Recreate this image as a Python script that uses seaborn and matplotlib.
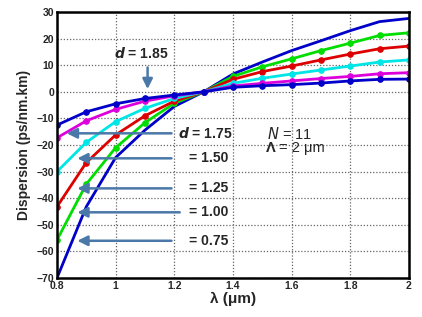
import numpy as np
import pandas as pd
import matplotlib
matplotlib.use("Agg")
import matplotlib.pyplot as plt
import seaborn as sns

# wavelength grid (um)
wavelength = [0.8, 0.9, 1.0, 1.1, 1.2, 1.3, 1.4, 1.5, 1.6, 1.7, 1.8, 1.9, 2.0]

# dispersion (ps/nm.km) per air-hole diameter d
disp_d075 = [-70.0, -43.2, -24.7, -14.4, -5.5, 0.0, 6.7, 11.2, 15.5, 19.2, 23.0, 26.4, 27.6]
disp_d100 = [-55.7, -34.7, -21.0, -11.6, -4.3, 0.0, 5.8, 9.4, 12.4, 15.5, 18.3, 21.2, 22.2]
disp_d125 = [-43.2, -26.6, -16.2, -9.0, -3.5, 0.0, 4.7, 7.6, 9.7, 12.0, 14.2, 16.2, 17.2]
disp_d150 = [-30.0, -19.0, -11.2, -6.2, -2.5, 0.0, 3.2, 5.1, 6.7, 8.2, 9.7, 11.2, 12.0]
disp_d175 = [-17.3, -10.9, -6.6, -3.5, -1.5, 0.0, 2.2, 3.2, 4.1, 5.0, 5.8, 6.8, 7.2]
disp_d185 = [-12.5, -7.5, -4.5, -2.5, -1.2, 0.0, 1.7, 2.3, 2.7, 3.3, 4.1, 4.7, 4.8]

series = [
    ("0.75", disp_d075, "#0000c8", False),
    ("1.00", disp_d100, "#00dd00", True),
    ("1.25", disp_d125, "#dd0000", True),
    ("1.50", disp_d150, "#00e5e5", True),
    ("1.75", disp_d175, "#dd00dd", True),
    ("1.85", disp_d185, "#0000c8", True),
]

# label text, arrow y (data units)
arrow_labels = [
    ("= 1.50", -25.0),
    ("= 1.25", -36.3),
    ("= 1.00", -45.3),
    ("= 0.75", -56.0),
]

sns.set_style("white")
plt.rcParams["font.family"] = ["Liberation Sans", "DejaVu Sans"]

fig = plt.figure(figsize=(4.22, 3.17), dpi=100)
ax = fig.add_axes([0.135, 0.123, 0.834, 0.839])

for name, vals, color, marks in series:
    df = pd.DataFrame({"wl": wavelength, "D": vals})
    sns.lineplot(data=df, x="wl", y="D", ax=ax, color=color, linewidth=2,
                 marker="o" if marks else None, markersize=4,
                 markeredgecolor=color, clip_on=True)

ax.set_xlim(0.8, 2.0)
ax.set_ylim(-70, 30)
ax.set_xticks([0.8, 1.0, 1.2, 1.4, 1.6, 1.8, 2.0])
ax.set_xticklabels(["0.8", "1", "1.2", "1.4", "1.6", "1.8", "2"])
ax.set_yticks(range(-70, 31, 10))
ax.grid(True, linestyle=(0, (1, 1.5)), color="#666666", linewidth=0.9)
for s in ax.spines.values():
    s.set_linewidth(1.8)
    s.set_color("black")
ax.tick_params(direction="in", length=3, width=1, labelsize=7.5, pad=2)
for lab in ax.get_xticklabels() + ax.get_yticklabels():
    lab.set_fontweight("bold")

ax.set_xlabel("λ (μm)", fontsize=11, fontweight="bold", labelpad=1)
ax.set_ylabel("Dispersion (ps/nm.km)", fontsize=10, fontweight="bold", labelpad=4)

arrow_col = "#4a78a8"
aprops = dict(arrowstyle="-|>,head_length=0.6,head_width=0.3", color=arrow_col, lw=1.8)

# d = 1.85 vertical arrow
ax.annotate("", xy=(1.109, 0), xytext=(1.109, 10.2), arrowprops=aprops)
ax.text(1.086, 14.6, "$\\boldsymbol{d}$ = 1.85", fontsize=10, fontweight="bold",
        ha="center", va="center")

# d = 1.75 horizontal arrow
ax.annotate("", xy=(0.824, -15.6), xytext=(1.2, -15.6), arrowprops=aprops)
ax.text(1.213, -15.6, "$\\boldsymbol{d}$ = 1.75", fontsize=10, fontweight="bold",
        ha="left", va="center")

for txt, yv in arrow_labels:
    x_end = 1.228 if txt == "= 1.00" else 1.2
    ax.annotate("", xy=(0.86, yv), xytext=(x_end, yv), arrowprops=aprops)
    ax.text(1.25, yv, txt, fontsize=10, fontweight="bold", ha="left", va="center")

ax.text(1.515, -16, "$\\mathit{N}$ = 11", fontsize=10.5, ha="left", va="center")
ax.text(1.513, -21.3, "Λ", fontsize=10.5, fontweight="bold", ha="left", va="center")
ax.text(1.557, -21.3, "= 2 μm", fontsize=10.5, ha="left", va="center")

fig.savefig("out.png", dpi=100)
